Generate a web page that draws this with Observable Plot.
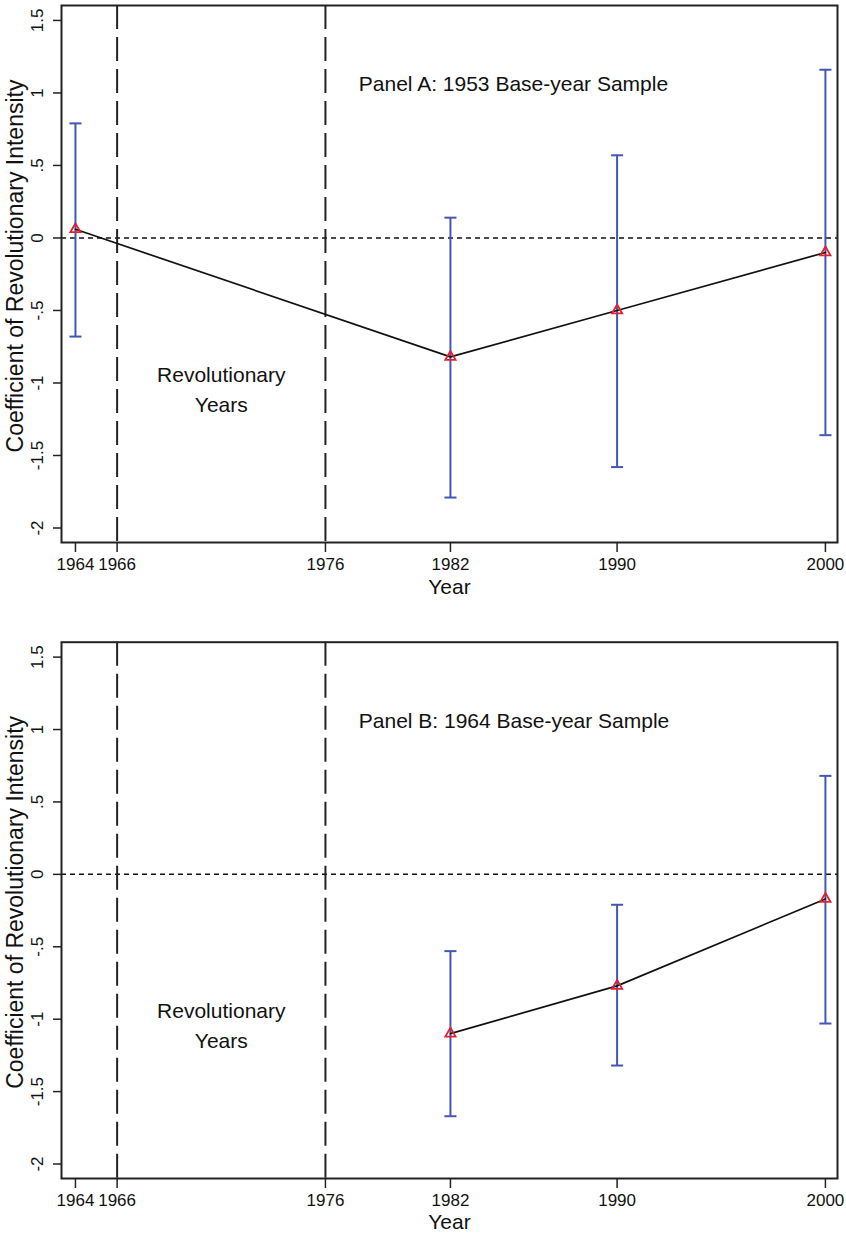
<!DOCTYPE html>
<html>
<head>
<meta charset="utf-8">
<script src="https://cdn.jsdelivr.net/npm/d3@7"></script>
<script src="https://cdn.jsdelivr.net/npm/@observablehq/plot@0.6"></script>
<style>
  body { margin: 0; background: #fff; }
  #chart svg { display: block; }
</style>
</head>
<body>
<div id="chart"></div>
<script>
// ---- data ----
const yearsA = [1964, 1982, 1990, 2000];
const coefA  = [0.06, -0.82, -0.50, -0.10];
const loA    = [-0.68, -1.79, -1.58, -1.36];
const hiA    = [0.79, 0.14, 0.57, 1.16];

const yearsB = [1982, 1990, 2000];
const coefB  = [-1.10, -0.77, -0.17];
const loB    = [-1.67, -1.32, -1.03];
const hiB    = [-0.53, -0.21, 0.68];

const xTicks = [1964, 1966, 1976, 1982, 1990, 2000];
const yTicks = [-2, -1.5, -1, -0.5, 0, 0.5, 1, 1.5];
const yTickLabels = ["-2", "-1.5", "-1", "-.5", "0", ".5", "1", "1.5"];
const revYears = [1966, 1976];
const titleA = "Panel A: 1953 Base-year Sample";
const titleB = "Panel B: 1964 Base-year Sample";

// ---- helpers ----
const capSymbol = {
  draw(ctx, size) {
    const w = Math.sqrt(size);
    ctx.moveTo(-w / 2, 0);
    ctx.lineTo(w / 2, 0);
  }
};
const BLUE = "#4256b4";
const RED = "#e3202b";
const FONT = "'Liberation Sans', Arial, Helvetica, sans-serif";

function panel(years, coef, lo, hi, title, opts) {
  const data = years.map((y, i) => ({year: y, coef: coef[i], lo: lo[i], hi: hi[i]}));
  return Plot.plot({
    width: 846,
    height: opts.height,
    marginLeft: 61,
    marginRight: 9,
    marginTop: opts.marginTop,
    marginBottom: opts.marginBottom,
    style: {fontFamily: FONT, fontSize: "17px", color: "#111", background: "#fff", overflow: "visible"},
    x: {domain: [1963.33, 2000.58]},
    y: {domain: [-2.1, 1.603]},
    marks: [
      Plot.axisX({ticks: xTicks, tickFormat: d => String(d), tickSize: 10, tickPadding: 5, label: null, fontSize: 17, stroke: "#222", strokeWidth: 1.5}),
      Plot.axisY({ticks: yTicks, tickFormat: d => yTickLabels[yTicks.indexOf(d)], tickSize: 8, tickPadding: 11, tickRotate: -90, label: null, fontSize: 17, stroke: "#222", strokeWidth: 1.5}),
      Plot.ruleY([0], {stroke: "#111", strokeWidth: 1.5, strokeDasharray: "5,4"}),
      Plot.ruleX(revYears, {stroke: "#222", strokeWidth: 2, strokeDasharray: "24,8"}),
      Plot.ruleX(data, {x: "year", y1: "lo", y2: "hi", stroke: BLUE, strokeWidth: 2}),
      Plot.dot(data, {x: "year", y: "hi", symbol: capSymbol, r: 6.8, stroke: BLUE, strokeWidth: 2, fill: "none"}),
      Plot.dot(data, {x: "year", y: "lo", symbol: capSymbol, r: 6.8, stroke: BLUE, strokeWidth: 2, fill: "none"}),
      Plot.line(data, {x: "year", y: "coef", stroke: "#111", strokeWidth: 1.7}),
      Plot.dot(data, {x: "year", y: "coef", symbol: "triangle", r: 3.8, stroke: RED, strokeWidth: 1.8, fill: "none"}),
      Plot.text([title], {x: 1977.6, y: 1.06, text: d => d, textAnchor: "start", fontSize: 21, fill: "#111"}),
      Plot.text(["Revolutionary\nYears"], {x: 1971, y: -1.03, text: d => d, fontSize: 21, lineHeight: 1.43, fill: "#111"}),
      Plot.text(["Year"], {frameAnchor: "bottom", lineAnchor: "middle", dy: opts.yearDy, text: d => d, fontSize: 21, fill: "#111"}),
      Plot.text(["Coefficient of Revolutionary Intensity"], {frameAnchor: "left", dx: -46, dy: -8, rotate: -90, textAnchor: "middle", text: d => d, fontSize: 23, fill: "#111"}),
      Plot.frame({stroke: "#222", strokeWidth: 2})
    ]
  });
}

const chart = document.getElementById("chart");
chart.append(panel(yearsA, coefA, loA, hiA, titleA, {height: 600, marginTop: 5, marginBottom: 58, yearDy: 45}));
chart.append(panel(yearsB, coefB, loB, hiB, titleB, {height: 633, marginTop: 41.7, marginBottom: 55, yearDy: 44}));
</script>
</body>
</html>
